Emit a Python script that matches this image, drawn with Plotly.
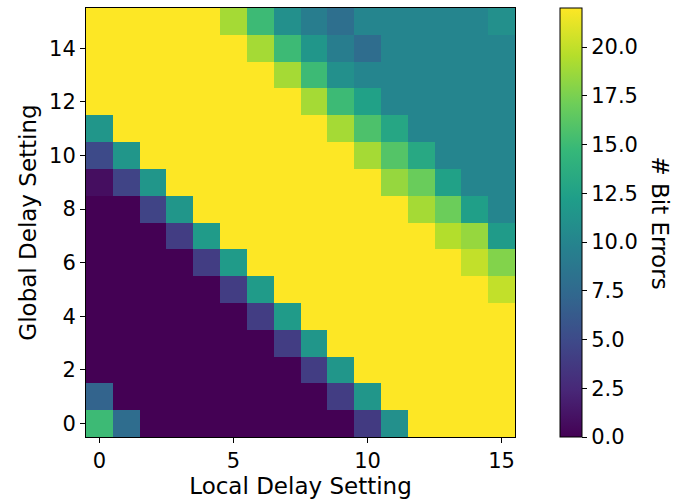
import plotly.graph_objects as go

# Local delay setting (x) and global delay setting (y)
local_delay = list(range(16))
global_delay = list(range(16))

# Bit errors, rows = global delay 0..15 (bottom to top), cols = local delay 0..15
Y = 22
bit_errors = [
    [15, 7.8, 0, 0, 0, 0, 0, 0, 0, 0, 3.8, 11, Y, Y, Y, Y],          # 0
    [7, 0, 0, 0, 0, 0, 0, 0, 0, 4, 11.5, Y, Y, Y, Y, Y],             # 1
    [0, 0, 0, 0, 0, 0, 0, 0, 4, 11.5, Y, Y, Y, Y, Y, Y],             # 2
    [0, 0, 0, 0, 0, 0, 0, 4, 11.5, Y, Y, Y, Y, Y, Y, Y],             # 3
    [0, 0, 0, 0, 0, 0, 4, 12, Y, Y, Y, Y, Y, Y, Y, Y],               # 4
    [0, 0, 0, 0, 0, 4, 12, Y, Y, Y, Y, Y, Y, Y, Y, 20],              # 5
    [0, 0, 0, 0, 4, 12, Y, Y, Y, Y, Y, Y, Y, Y, 20, 17.8],           # 6
    [0, 0, 0, 4, 12, Y, Y, Y, Y, Y, Y, Y, Y, 19.5, 18.5, 12],        # 7
    [0, 0, 4.5, 11.5, Y, Y, Y, Y, Y, Y, Y, Y, 19, 17, 12.3, 10],     # 8
    [0.8, 4.5, 11.5, Y, Y, Y, Y, Y, Y, Y, Y, 18.5, 16.9, 12.5, 10, 10],  # 9
    [5, 11.5, Y, Y, Y, Y, Y, Y, Y, Y, 19, 16, 13.2, 10, 10, 10],     # 10
    [11.5, Y, Y, Y, Y, Y, Y, Y, Y, 19, 15.7, 13, 10, 10, 10, 10],    # 11
    [Y, Y, Y, Y, Y, Y, Y, Y, 19, 15, 12.5, 10, 10, 10, 10, 10],      # 12
    [Y, Y, Y, Y, Y, Y, Y, 19, 15, 11, 10, 10, 10, 10, 10, 10],       # 13
    [Y, Y, Y, Y, Y, Y, 19, 15, 11.5, 9.3, 7.8, 10, 10, 10, 10, 10],  # 14
    [Y, Y, Y, Y, Y, 19, 15, 11, 9.3, 8, 10, 10, 10, 10, 10, 11],     # 15
]

x_ticks = [0, 5, 10, 15]
y_ticks = [0, 2, 4, 6, 8, 10, 12, 14]
cbar_ticks = [0, 2.5, 5, 7.5, 10, 12.5, 15, 17.5, 20]
cbar_ticktext = ["0.0", "2.5", "5.0", "7.5", "10.0", "12.5", "15.0", "17.5", "20.0"]

FONT = "DejaVu Sans"
TICK_SIZE = 21
LABEL_SIZE = 23

fig = go.Figure(
    go.Heatmap(
        z=bit_errors,
        x=local_delay,
        y=global_delay,
        colorscale="Viridis",
        zmin=0,
        zmax=22,
        colorbar=dict(
            x=1.105,
            xanchor="left",
            y=0.5,
            yanchor="middle",
            len=1,
            lenmode="fraction",
            ypad=0,
            xpad=0,
            thickness=22,
            outlinewidth=1,
            outlinecolor="black",
            ticks="outside",
            ticklen=5,
            tickcolor="black",
            tickvals=cbar_ticks,
            ticktext=cbar_ticktext,
            tickfont=dict(family=FONT, size=TICK_SIZE, color="black"),
        ),
    )
)

fig.update_layout(
    width=677,
    height=501,
    margin=dict(l=86, r=162, t=8, b=64),
    plot_bgcolor="white",
    paper_bgcolor="white",
    font=dict(family=FONT, color="black"),
    xaxis=dict(
        range=[-0.5, 15.5],
        tickvals=x_ticks,
        ticks="outside",
        ticklen=5,
        tickcolor="black",
        showline=True,
        linecolor="black",
        linewidth=1,
        mirror=True,
        showgrid=False,
        zeroline=False,
        tickfont=dict(family=FONT, size=TICK_SIZE, color="black"),
        title=dict(text="Local Delay Setting", font=dict(family=FONT, size=LABEL_SIZE), standoff=4),
    ),
    yaxis=dict(
        range=[-0.5, 15.5],
        tickvals=y_ticks,
        ticks="outside",
        ticklen=5,
        tickcolor="black",
        showline=True,
        linecolor="black",
        linewidth=1,
        mirror=True,
        showgrid=False,
        zeroline=False,
        tickfont=dict(family=FONT, size=TICK_SIZE, color="black"),
        title=dict(text="Global Delay Setting", font=dict(family=FONT, size=LABEL_SIZE), standoff=6),
    ),
    annotations=[
        dict(
            text="# Bit Errors",
            x=1.373,
            y=0.5,
            xref="paper",
            yref="paper",
            showarrow=False,
            textangle=90,
            font=dict(family=FONT, size=LABEL_SIZE, color="black"),
        )
    ],
)

fig.write_html(
    "out.html",
    config={"displayModeBar": False},
    post_script="document.body.style.margin='0';document.body.style.overflow='hidden';",
)
